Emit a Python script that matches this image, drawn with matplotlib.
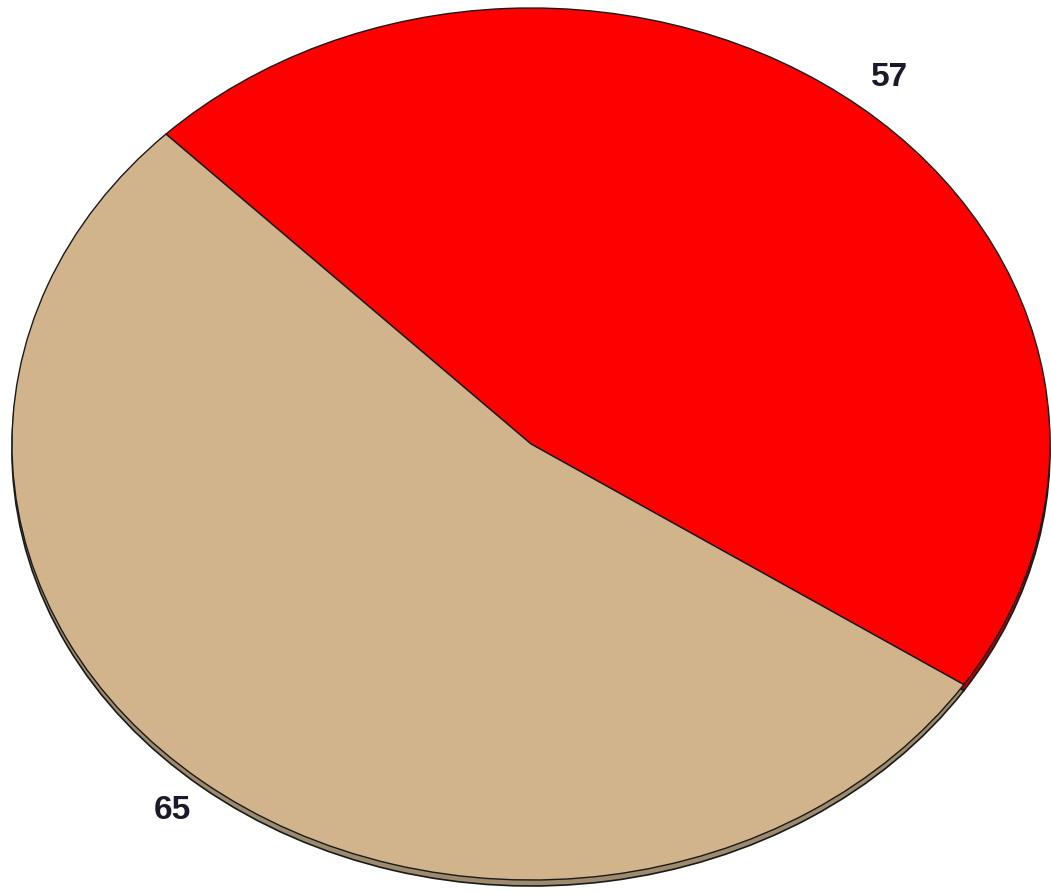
import matplotlib as mpl
from matplotlib import pyplot as plt

values = [57, 65]
labels = ['57', '65']
colors = ['#ff0000', '#d2b48c']
side_colors = ['#b40000', '#9e8a6c']

fig = plt.figure(figsize=(10.51, 8.94), dpi=100)
ax = fig.add_axes([0, 0, 1, 1])

# side wall, a copy shifted down a few pixels
ax.pie(values, colors=side_colors, startangle=134.7, counterclock=False,
       center=(0, -6 / 436), radius=1, frame=True,
       wedgeprops=dict(edgecolor='#1a1a1a', linewidth=1.2))

wedges, texts = ax.pie(values, colors=colors, startangle=134.7,
                       counterclock=False, labels=labels,
                       labeldistance=1.088, radius=1, frame=True,
                       wedgeprops=dict(edgecolor='#1a1a1a', linewidth=1.0),
                       textprops=dict(fontsize=24, fontweight='bold',
                                      color='#1a1a2a',
                                      family='Liberation Sans'))
for t in texts:
    t.set_ha('center')
    t.set_va('center')

# pixel geometry of the tilted pie: centre (531, 444), radii 519 x 436
ax.set_aspect('auto')
ax.set_xlim(-531 / 519, (1051 - 531) / 519)
ax.set_ylim(-(894 - 444) / 436, 444 / 436)
ax.axis('off')

fig.savefig('out.png', dpi=100)
